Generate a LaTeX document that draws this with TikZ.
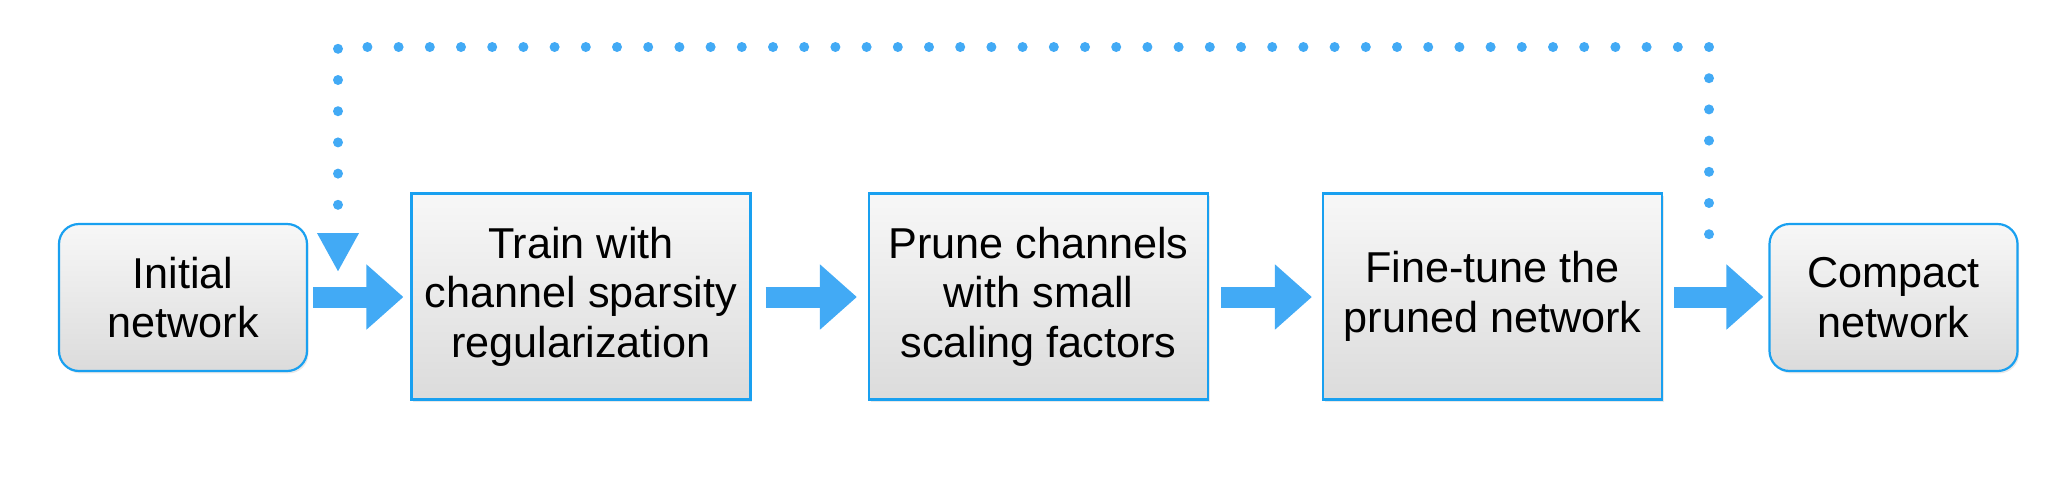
\documentclass[tikz,border=0pt]{standalone}
\usepackage{fontspec}
\setmainfont{Liberation Sans}
\usetikzlibrary{arrows.meta,shadows}
\definecolor{arrowblue}{RGB}{66,170,245}
\definecolor{edgeblue}{RGB}{25,160,240}
\begin{document}
\begin{tikzpicture}[x=0.5pt,y=-0.5pt,
  stepbox/.style={draw=edgeblue, line width=1.1pt, top color=white!97!black, bottom color=black!14,
    minimum width=169.5pt, minimum height=103pt, inner sep=0pt, align=center,
    font=\fontsize{21.6}{24.75}\selectfont,
    drop shadow={opacity=0.18, shadow xshift=0.8pt, shadow yshift=-1.2pt}},
  endbox/.style={stepbox, rounded corners=10pt, minimum width=124pt, minimum height=73.5pt},
  bigarrow/.style={draw=arrowblue, line width=10.5pt, -{Triangle[length=18.5pt,width=31.5pt]}},
  loopline/.style={draw=arrowblue, line width=5pt, line cap=round, dash pattern=on 0pt off 15.6pt,
    -{Triangle[length=19.5pt,width=19.5pt]}}]
\useasboundingbox (0,0) rectangle (2065,479);
\node[endbox] (init) at (183,297.5) {Initial\\network};
\node[stepbox] (train) at (581,296.5) {Train with\\channel sparsity\\regularization};
\node[stepbox] (prune) at (1038.5,296.5) {Prune channels\\with small\\scaling factors};
\node[stepbox] (fine) at (1492.5,296.5) {Fine-tune the\\pruned network};
\node[endbox] (compact) at (1893.5,297.5) {Compact\\network};
\draw[bigarrow] ([xshift=2.5pt]init.east |- 0,297) -- ([xshift=-3.5pt]train.west |- 0,297);
\draw[bigarrow] ([xshift=7pt]train.east |- 0,297) -- ([xshift=-5.5pt]prune.west |- 0,297);
\draw[bigarrow] ([xshift=6pt]prune.east |- 0,297) -- ([xshift=-5pt]fine.west |- 0,297);
\draw[bigarrow] ([xshift=5.5pt]fine.east |- 0,297) -- ([xshift=-2.5pt]compact.west |- 0,297);
\coordinate (ls) at (1709,234.2);
\coordinate (lr) at (1709,47);
\coordinate (ll) at (338,47);
\coordinate (le) at (338,272);
\draw[loopline] (ls) -- (lr) -- (ll) -- (le);
\end{tikzpicture}
\end{document}
